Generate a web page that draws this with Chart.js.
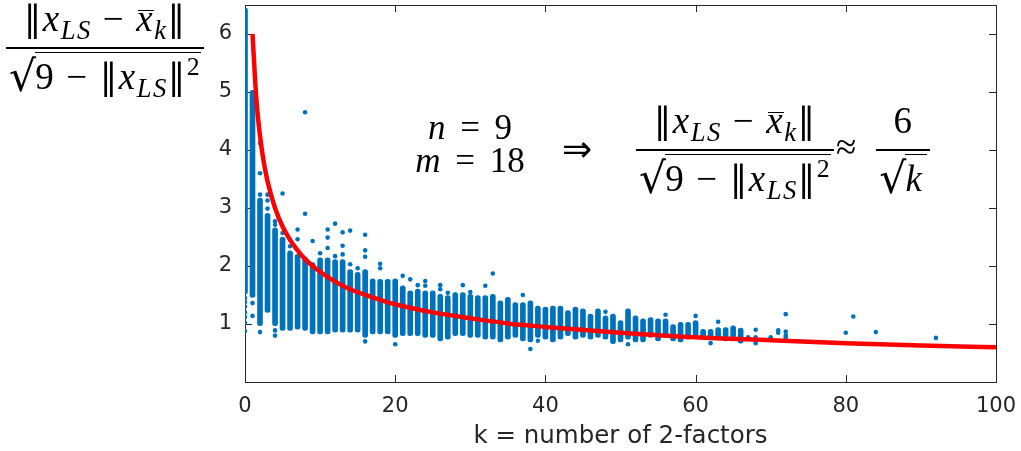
<!DOCTYPE html>
<html>
<head>
<meta charset="utf-8">
<script src="https://cdn.jsdelivr.net/npm/chart.js@4/dist/chart.umd.min.js"></script>
<style>
  html, body { margin: 0; padding: 0; background: #fff; }
  #wrap { position: relative; width: 1021px; height: 451px; overflow: hidden; }
  #chart { position: absolute; left: 0; top: 0; }
  .math { position: absolute; font-family: "Liberation Serif", serif; font-size: 37px; letter-spacing: 0.04em; color: #000; white-space: nowrap; line-height: 1; }
  .frac { display: inline-flex; flex-direction: column; align-items: center; vertical-align: middle; }
  .num { padding: 0 3px 10px; }
  .den { border-top: 2px solid #000; padding: 5px 3px 0; }
  .nm { font-family: "DejaVu Serif", serif; font-size: 0.95em; }
  .it { font-style: italic; }
  sub { font-size: 0.72em; font-style: italic; vertical-align: -0.3em; line-height: 0; }
  sup { font-size: 0.7em; vertical-align: 0.55em; line-height: 0; }
  .ov { position: relative; display: inline-block; font-style: italic; }
  .ov::before { content: ''; position: absolute; left: 2px; right: 0; top: 0.28em; border-top: 1.5px solid #000; }
  .op { margin: 0 0.3em; }
  .rel { margin: 0 0.42em; }
  .rs { font-family: "DejaVu Serif", serif; font-size: 1.15em; position: relative; top: 0.04em; letter-spacing: 0; }
  .rc { border-top: 1.5px solid #000; padding-top: 3px; margin-left: -1px; }
  .arr { position: absolute; font-family: "DejaVu Sans", sans-serif; font-size: 36px; line-height: 1; }
  #nm { font-size: 35px; letter-spacing: 0; }
</style>
</head>
<body>
<div id="wrap">
  <canvas id="chart" width="1021" height="451"></canvas>

  <div class="math" style="left: 6px; top: 0px;">
    <span class="frac">
      <span class="num"><span class="nm">‖</span><span class="it">x</span><sub>LS</sub><span class="op">−</span><span class="ov">x</span><sub>k</sub><span class="nm">‖</span></span>
      <span class="den"><span class="rs">√</span><span class="rc">9<span class="op">−</span><span class="nm">‖</span><span class="it">x</span><sub>LS</sub><span class="nm">‖</span><sup>2</sup></span></span>
    </span>
  </div>

  <div class="math" id="nm" style="left: 414px; top: 110px; width: 112px; text-align: center;">
    <div><span class="it">n</span><span class="rel">=</span>9</div>
    <div style="margin-top: -2px;"><span class="it">m</span><span class="rel">=</span>18</div>
  </div>

  <div class="arr" style="left: 562px; top: 131px;">⇒</div>

  <div class="math" style="left: 636px; top: 102px;">
    <span class="frac">
      <span class="num"><span class="nm">‖</span><span class="it">x</span><sub>LS</sub><span class="op">−</span><span class="ov">x</span><sub>k</sub><span class="nm">‖</span></span>
      <span class="den"><span class="rs">√</span><span class="rc">9<span class="op">−</span><span class="nm">‖</span><span class="it">x</span><sub>LS</sub><span class="nm">‖</span><sup>2</sup></span></span>
    </span><span class="rel" style="margin: 0 0.5em 0 0.05em;">≈</span><span class="frac">
      <span class="num">6</span>
      <span class="den"><span class="rs">√</span><span class="rc" style="padding-right: 4px;"><span class="it">k</span></span></span>
    </span>
  </div>
</div>

<script>
// column strips: k and the low/high end of each dense vertical run of points
const stripK = [0, 1, 2, 3, 4, 5, 6, 7, 8, 9, 10, 11, 12, 13, 14, 15, 16, 17, 18, 19, 20,
  21, 22, 23, 24, 25, 26, 27, 28, 29, 30, 31, 32, 33, 34, 35, 36, 37, 38, 39, 40,
  41, 42, 43, 44, 45, 46, 47, 48, 49, 50, 51, 52, 53, 54, 55, 56, 57, 58, 59, 60,
  61, 62, 63, 64, 65, 66];
const stripLow = [1.52, 1.46, 0.97, 1.20, 0.97, 0.89, 0.89, 0.91, 0.89, 0.83, 0.83,
  0.83, 0.86, 0.86, 0.86, 0.86, 0.77, 0.83, 0.83, 0.83, 0.77,
  0.80, 0.80, 0.80, 0.77, 0.77, 0.71, 0.74, 0.80, 0.80, 0.77,
  0.77, 0.74, 0.74, 0.69, 0.74, 0.77, 0.71, 0.69, 0.77, 0.74,
  0.69, 0.74, 0.80, 0.74, 0.77, 0.74, 0.77, 0.74, 0.66, 0.69,
  0.74, 0.69, 0.69, 0.77, 0.71, 0.77, 0.71, 0.69, 0.74, 0.80,
  0.74, 0.74, 0.73, 0.71, 0.77, 0.67];
const stripHigh = [6.45, 5.03, 3.17, 2.91, 2.66, 2.50, 2.26, 2.20, 2.16, 2.06, 2.14,
  2.14, 2.11, 2.11, 1.94, 1.89, 1.94, 1.78, 1.77, 1.77, 1.78,
  1.66, 1.57, 1.60, 1.57, 1.57, 1.51, 1.49, 1.54, 1.54, 1.51,
  1.49, 1.49, 1.51, 1.40, 1.46, 1.37, 1.37, 1.40, 1.31, 1.29,
  1.31, 1.31, 1.23, 1.29, 1.26, 1.17, 1.26, 1.14, 1.17, 1.06,
  1.26, 1.14, 1.09, 1.11, 1.09, 1.09, 0.99, 1.03, 1.03, 1.06,
  0.91, 0.91, 0.94, 0.94, 0.97, 0.93];

// single points outside the strips
const extraK = [0, 0, 0, 0, 0, 0, 0, 1, 1, 2, 2, 2, 2, 3, 3, 3, 4, 4, 4, 4, 5, 5, 6, 7, 7,
  8, 8, 9, 10, 11, 11, 11, 12, 12, 13, 13, 13, 14, 14, 15, 16, 16, 16, 16, 18, 18,
  20, 21, 22, 23, 24, 24, 26, 26, 27, 29, 30, 32, 33, 37, 38, 39, 48, 51, 56, 60,
  62, 63, 67, 68, 68, 68, 70, 71, 71, 72, 72, 72, 72, 80, 81, 84, 92];
const extraVal = [1.45, 1.38, 1.30, 1.20, 1.12, 1.02, 0.88, 1.36, 1.14, 4.12, 3.60, 3.23, 0.86,
  3.23, 3.13, 2.99, 2.77, 2.71, 0.89, 0.80, 3.25, 2.57, 2.34, 2.63, 2.46,
  4.65, 2.90, 2.43, 2.22, 2.63, 2.49, 2.31, 2.73, 2.17, 2.58, 2.35, 2.20, 2.61, 2.03,
  1.96, 2.54, 2.27, 2.16, 0.70, 2.04, 1.96,
  0.65, 1.83, 1.77, 1.67, 1.74, 1.66, 1.67, 1.60, 1.54, 1.67, 1.55, 1.66, 1.87, 1.50,
  0.57, 0.71, 1.21, 0.65, 1.16, 1.14,
  0.67, 1.04, 0.77, 0.90, 0.77, 0.67, 0.77, 0.89, 0.85, 1.17, 0.87, 0.81, 0.77,
  0.85, 1.13, 0.86, 0.76];

// red reference curve
const curveK = [1, 1.5, 2, 2.5, 3, 4, 5, 6, 7, 8, 10, 12, 14, 17, 20, 25, 30, 35, 40, 50, 60, 70, 80, 90, 100];
const curveVal = [6.00, 4.90, 4.24, 3.79, 3.46, 3.00, 2.68, 2.45, 2.27, 2.12, 1.90, 1.73, 1.60, 1.46,
  1.34, 1.20, 1.10, 1.01, 0.95, 0.85, 0.77, 0.72, 0.67, 0.63, 0.60];

const xTicks = [0, 20, 40, 60, 80, 100];
const yTicks = [1, 2, 3, 4, 5, 6];

const blue = '#0072BD';
const axisColor = '#262626';
const tickLen = 7;

// MATLAB style box with inward ticks on all four sides
const boxTicks = {
  id: 'boxTicks',
  beforeDatasetsDraw(chart) {
    const { ctx, chartArea: a, scales: { x, y } } = chart;
    ctx.save();
    ctx.strokeStyle = axisColor;
    ctx.lineWidth = 1;
    ctx.strokeRect(a.left + 0.5, a.top + 0.5, a.right - a.left, a.bottom - a.top);
    ctx.beginPath();
    xTicks.forEach(v => {
      const px = Math.round(x.getPixelForValue(v)) + 0.5;
      ctx.moveTo(px, a.bottom);
      ctx.lineTo(px, a.bottom - tickLen);
      ctx.moveTo(px, a.top);
      ctx.lineTo(px, a.top + tickLen);
    });
    yTicks.forEach(v => {
      const py = Math.round(y.getPixelForValue(v)) + 0.5;
      ctx.moveTo(a.left, py);
      ctx.lineTo(a.left + tickLen, py);
      ctx.moveTo(a.right, py);
      ctx.lineTo(a.right - tickLen, py);
    });
    ctx.stroke();
    ctx.restore();
  }
};

// keep the plot box where the figure has it: no extra room for edge labels
const noEdgePad = s => {
  s.paddingLeft = 0;
  s.paddingRight = 0;
  s.paddingTop = 0;
  s.paddingBottom = 0;
};

new Chart(document.getElementById('chart'), {
  type: 'scatter',
  data: {
    datasets: [
      {
        type: 'line',
        data: curveK.map((k, i) => ({ x: k, y: curveVal[i] })),
        borderColor: '#FF0000',
        borderWidth: 4.5,
        pointRadius: 0,
        cubicInterpolationMode: 'monotone',
        fill: false,
        order: 0
      },
      {
        type: 'scatter',
        data: extraK.map((k, i) => ({ x: k, y: extraVal[i] })),
        backgroundColor: blue,
        borderWidth: 0,
        pointRadius: 2.3,
        order: 1
      },
      {
        type: 'bar',
        data: stripK.map((k, i) => ({ x: k, y: [stripLow[i], stripHigh[i]] })),
        backgroundColor: blue,
        barThickness: 5,
        borderRadius: 2.5,
        borderSkipped: false,
        grouped: false,
        order: 2
      }
    ]
  },
  options: {
    responsive: false,
    animation: false,
    events: [],
    layout: { padding: { left: 0, right: 25, top: 5, bottom: 0 } },
    plugins: {
      legend: { display: false },
      tooltip: { enabled: false }
    },
    scales: {
      x: {
        type: 'linear',
        min: 0,
        max: 100,
        offset: false,
        afterBuildTicks: s => { s.ticks = xTicks.map(v => ({ value: v })); },
        afterFit: s => { s.height = 69; noEdgePad(s); },
        grid: { display: false, drawTicks: false },
        border: { display: false },
        ticks: {
          maxRotation: 0,
          padding: 12,
          color: axisColor,
          font: { family: 'DejaVu Sans', size: 21 }
        },
        title: {
          display: true,
          text: 'k = number of 2-factors',
          color: axisColor,
          font: { family: 'DejaVu Sans', size: 24.5 },
          padding: { top: 1, bottom: 0 }
        }
      },
      y: {
        type: 'linear',
        min: 0,
        max: 6.5,
        afterBuildTicks: s => { s.ticks = yTicks.map(v => ({ value: v })); },
        afterFit: s => { s.width = 245; noEdgePad(s); },
        grid: { display: false, drawTicks: false },
        border: { display: false },
        ticks: {
          padding: 13,
          color: axisColor,
          font: { family: 'DejaVu Sans', size: 21 }
        }
      }
    }
  },
  plugins: [boxTicks]
});
</script>
</body>
</html>
